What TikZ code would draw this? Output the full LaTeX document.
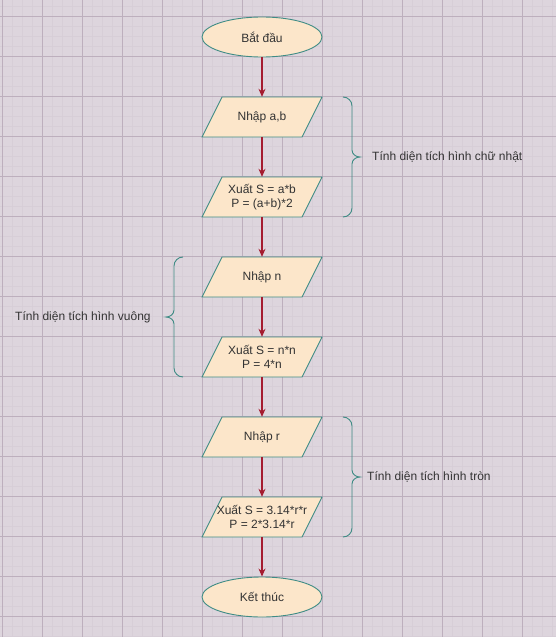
\documentclass[tikz,border=0pt]{standalone}
\usepackage{fontspec}
\setmainfont{Liberation Sans}
\usetikzlibrary{shapes.geometric,arrows.meta}
\definecolor{bgc}{HTML}{DDD5DD}
\definecolor{minorc}{HTML}{D7CED7}
\definecolor{majorc}{HTML}{BDAFBD}
\definecolor{shapefill}{HTML}{FCE6CA}
\definecolor{shapeline}{HTML}{3F8C85}
\definecolor{arrowc}{HTML}{A51C30}
\definecolor{txt}{HTML}{333333}
\tikzset{
  base/.style={text=txt, inner sep=0pt, font=\fontsize{12}{14}\selectfont, align=center},
  term/.style={base, draw=shapeline, fill=shapefill, line width=0.9pt, ellipse,
    minimum width=120pt, minimum height=40pt},
  para/.style={base, rectangle, minimum width=100pt, minimum height=40pt},
  parashape/.style={draw=shapeline, fill=shapefill, line width=0.9pt},
  flow/.style={draw=arrowc, line width=1.1pt, -{Stealth[length=8pt,width=7pt]}},
  bracec/.style={draw=shapeline, line width=0.9pt},
  lbl/.style={text=txt, font=\fontsize{12}{14}\selectfont, inner sep=0pt}
}
\begin{document}
\begin{tikzpicture}[x=1pt,y=-1pt]
\useasboundingbox (0,0) rectangle (556,637);
\fill[bgc] (0,0) rectangle (556,637);
\foreach \x in {2,12,...,552} \draw[minorc, line width=0.5pt] (\x,0) -- (\x,637);
\foreach \y in {6,16,...,636} \draw[minorc, line width=0.5pt] (0,\y) -- (556,\y);
\foreach \x in {2,42,...,552} \draw[majorc, line width=0.6pt] (\x,0) -- (\x,637);
\foreach \y in {16,56,...,636} \draw[majorc, line width=0.6pt] (0,\y) -- (556,\y);

% parallelogram outlines
\foreach \c in {117,197,277,357,437,517}
  \filldraw[parashape] (222,\c-20) -- (322,\c-20) -- (302,\c+20) -- (202,\c+20) -- cycle;

\node[term] (start) at (262,37) {Bắt đầu};
\node[para] (in1) at (262,117) {Nhập a,b};
\node[para] (out1) at (262,197) {Xuất S = a*b\\P = (a+b)*2};
\node[para] (in2) at (262,277) {Nhập n};
\node[para] (out2) at (262,357) {Xuất S = n*n\\P = 4*n};
\node[para] (in3) at (262,437) {Nhập r};
\node[para] (out3) at (262,517) {Xuất S = 3.14*r*r\\P = 2*3.14*r};
\node[term] (stop) at (262,597) {Kết thúc};

\draw[flow] (start) -- (in1);
\draw[flow] (in1) -- (out1);
\draw[flow] (out1) -- (in2);
\draw[flow] (in2) -- (out2);
\draw[flow] (out2) -- (in3);
\draw[flow] (in3) -- (out3);
\draw[flow] (out3) -- (stop);

% braces
\draw[bracec] (343,97) to[out=0,in=90] (352,106) -- (352,150) to[out=270,in=180] (360,157)
  to[out=180,in=90] (352,164) -- (352,208) to[out=270,in=0] (343,217);
\draw[bracec] (183,257) to[out=180,in=90] (174,266) -- (174,310) to[out=270,in=0] (166,317)
  to[out=0,in=90] (174,324) -- (174,368) to[out=270,in=180] (183,377);
\draw[bracec] (343,417) to[out=0,in=90] (352,426) -- (352,470) to[out=270,in=180] (360,477)
  to[out=180,in=90] (352,484) -- (352,528) to[out=270,in=0] (343,537);

\node[lbl, anchor=west] (l1) at (372,157) {Tính diện tích hình chữ nhật};
\node[lbl, anchor=west] (l2) at (15,317) {Tính diện tích hình vuông};
\node[lbl, anchor=west] (l3) at (367,477) {Tính diện tích hình tròn};
\end{tikzpicture}
\end{document}
